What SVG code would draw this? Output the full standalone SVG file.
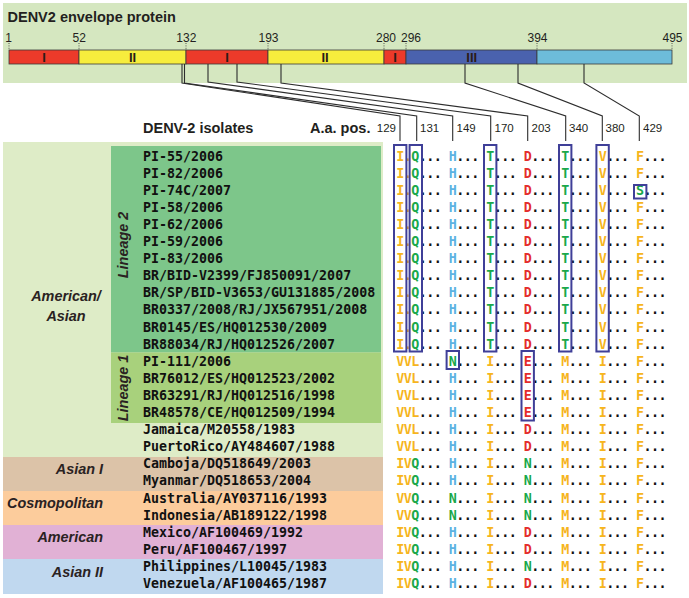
<svg xmlns="http://www.w3.org/2000/svg" width="689" height="598" viewBox="0 0 689 598">
<style>
.hd{font-family:"Liberation Sans",Arial,sans-serif;font-weight:bold;fill:#231f20}
.num{font-family:"Liberation Sans",Arial,sans-serif;font-size:12px;fill:#231f20}
.cn{font-family:"Liberation Sans",Arial,sans-serif;font-size:11.5px;fill:#231f20}
.seg{stroke:#3a3a3a;stroke-width:0.8}
.sl{font-family:"Liberation Sans",Arial,sans-serif;font-weight:bold;font-size:13px;fill:#2b1b17;text-anchor:middle}
.tick{stroke:#333;stroke-width:0.8;stroke-dasharray:1,1.4}
.con{fill:none;stroke:#2d2d2d;stroke-width:1.1}
.nm{font-family:"DejaVu Sans Mono","Liberation Mono",monospace;font-weight:bold;font-size:13.3px;fill:#111}
.al{font-family:"DejaVu Sans Mono","Liberation Mono",monospace;font-weight:bold;font-size:13.4px;letter-spacing:-0.57px;fill:#111}
.o{fill:#f6b51d}.g{fill:#1aa84b}.b{fill:#5db3e2}.r{fill:#e42c2b}
.gl{font-family:"Liberation Sans",Arial,sans-serif;font-weight:bold;font-style:italic;font-size:14.4px;fill:#2a2222}
.box{fill:none;stroke:#3f3f98;stroke-width:2}
</style>

<g id="protein-map">
<rect x="3" y="3" width="684" height="80" fill="#d5e7c0"/>
<text class="hd" x="7.5" y="21.5" font-size="14.5">DENV2 envelope protein</text>
<g id="positions">
<text class="num" x="8.7" y="41.5" text-anchor="middle">1</text>
<text class="num" x="79.3" y="41.5" text-anchor="middle">52</text>
<text class="num" x="186.3" y="41.5" text-anchor="middle">132</text>
<text class="num" x="268.5" y="41.5" text-anchor="middle">193</text>
<text class="num" x="386" y="41.5" text-anchor="middle">280</text>
<text class="num" x="411" y="41.5" text-anchor="middle">296</text>
<text class="num" x="537.5" y="41.5" text-anchor="middle">394</text>
<text class="num" x="672.5" y="41.5" text-anchor="middle">495</text>
<path class="tick" d="M9 43V49.5M79 43V49.5M186 43V49.5M268 43V49.5M384 43V49.5M406 43V49.5M537 43V49.5M672 43V49.5"/>
</g>
<g id="domains">
<rect class="seg" x="9" y="50" width="70" height="14" fill="#ec3a2a"/>
<rect class="seg" x="79" y="50" width="107" height="14" fill="#f7ed3d"/>
<rect class="seg" x="186" y="50" width="82" height="14" fill="#ec3a2a"/>
<rect class="seg" x="268" y="50" width="116" height="14" fill="#f7ed3d"/>
<rect class="seg" x="384" y="50" width="22" height="14" fill="#ec3a2a"/>
<rect class="seg" x="406" y="50" width="131" height="14" fill="#4a62ae"/>
<rect class="seg" x="537" y="50" width="135" height="14" fill="#6dbcda"/>
<text class="sl" x="44" y="61.8">I</text>
<text class="sl" x="132.5" y="61.8">II</text>
<text class="sl" x="227" y="61.8">I</text>
<text class="sl" x="325" y="61.8">II</text>
<text class="sl" x="395" y="61.8">I</text>
<text class="sl" x="471.7" y="61.8">III</text>
</g>
</g>

<g id="connectors">
<polyline class="con" points="182,64 182,83 400,116 400,141"/>
<polyline class="con" points="184.5,64 184.5,83 416.7,116 416.7,141"/>
<polyline class="con" points="208,64 208,82 452.7,116 452.7,141"/>
<polyline class="con" points="237,64 237,82 490.7,116 490.7,141"/>
<polyline class="con" points="281,64 281,83 527.7,116 527.7,141"/>
<polyline class="con" points="465,64 465,83 565.7,116 565.7,141"/>
<polyline class="con" points="518,64 518,83 602.3,116 602.3,141"/>
<polyline class="con" points="584,64 584,83 639.3,116 639.3,141"/>
</g>

<g id="headers">
<text class="hd" x="143" y="133" font-size="14.5">DENV-2 isolates</text>
<text class="hd" x="310" y="132.5" font-size="14.5">A.a. pos.</text>
<text class="cn" x="396" y="132.3" text-anchor="end">129</text>
<text class="cn" x="420" y="132.3">131</text>
<text class="cn" x="456.5" y="132.3">149</text>
<text class="cn" x="494.5" y="132.3">170</text>
<text class="cn" x="531.5" y="132.3">203</text>
<text class="cn" x="569" y="132.3">340</text>
<text class="cn" x="605.5" y="132.3">380</text>
<text class="cn" x="643" y="132.3">429</text>
</g>

<g id="group-american-asian">
<rect x="3" y="142" width="380" height="315" fill="#deecc7"/>
<text class="gl" x="66" y="301" text-anchor="middle">American/</text>
<text class="gl" x="66" y="320.5" text-anchor="middle">Asian</text>
</g>
<g id="lineage-2">
<rect x="111" y="146" width="270" height="206.5" fill="#7dc68a"/>
<text class="gl" transform="translate(128,245) rotate(-90)" text-anchor="middle">Lineage 2</text>
</g>
<g id="lineage-1">
<rect x="111" y="352.5" width="270" height="70.5" fill="#a8d17c"/>
<text class="gl" transform="translate(128,388) rotate(-90)" text-anchor="middle">Lineage 1</text>
</g>
<g id="group-asian-1">
<rect x="3" y="457" width="380" height="34" fill="#dcc3a8"/>
<text class="gl" x="103" y="474" text-anchor="end">Asian I</text>
</g>
<g id="group-cosmopolitan">
<rect x="3" y="491" width="380" height="34" fill="#fccc9c"/>
<text class="gl" x="103" y="508" text-anchor="end">Cosmopolitan</text>
</g>
<g id="group-american">
<rect x="3" y="525" width="380" height="34" fill="#e1b1d5"/>
<text class="gl" x="103" y="542" text-anchor="end">American</text>
</g>
<g id="group-asian-2">
<rect x="3" y="559" width="380" height="35" fill="#c0d8ef"/>
<text class="gl" x="103" y="576.5" text-anchor="end">Asian II</text>
</g>

<g id="isolates">
<text class="nm" x="143" y="160.5">PI-55/2006</text>
<text class="nm" x="143" y="177.6">PI-82/2006</text>
<text class="nm" x="143" y="194.7">PI-74C/2007</text>
<text class="nm" x="143" y="211.8">PI-58/2006</text>
<text class="nm" x="143" y="228.9">PI-62/2006</text>
<text class="nm" x="143" y="246">PI-59/2006</text>
<text class="nm" x="143" y="263.1">PI-83/2006</text>
<text class="nm" x="143" y="280.2">BR/BID-V2399/FJ850091/2007</text>
<text class="nm" x="143" y="297.3">BR/SP/BID-V3653/GU131885/2008</text>
<text class="nm" x="143" y="314.4">BR0337/2008/RJ/JX567951/2008</text>
<text class="nm" x="143" y="331.5">BR0145/ES/HQ012530/2009</text>
<text class="nm" x="143" y="348.6">BR88034/RJ/HQ012526/2007</text>
<text class="nm" x="143" y="365.7">PI-111/2006</text>
<text class="nm" x="143" y="382.8">BR76012/ES/HQ012523/2002</text>
<text class="nm" x="143" y="399.9">BR63291/RJ/HQ012516/1998</text>
<text class="nm" x="143" y="417">BR48578/CE/HQ012509/1994</text>
<text class="nm" x="143" y="434.1">Jamaica/M20558/1983</text>
<text class="nm" x="143" y="451.2">PuertoRico/AY484607/1988</text>
<text class="nm" x="143" y="468.3">Camboja/DQ518649/2003</text>
<text class="nm" x="143" y="485.4">Myanmar/DQ518653/2004</text>
<text class="nm" x="143" y="502.5">Australia/AY037116/1993</text>
<text class="nm" x="143" y="519.6">Indonesia/AB189122/1998</text>
<text class="nm" x="143" y="536.7">Mexico/AF100469/1992</text>
<text class="nm" x="143" y="553.8">Peru/AF100467/1997</text>
<text class="nm" x="143" y="570.9">Philippines/L10045/1983</text>
<text class="nm" x="143" y="588">Venezuela/AF100465/1987</text>
</g>

<g id="alignment">
<text class="al" x="396.3" y="160.5"><tspan class="o">I.</tspan><tspan class="g">Q</tspan>... <tspan class="b">H</tspan>... <tspan class="g">T</tspan>... <tspan class="r">D</tspan>... <tspan class="g">T</tspan>... <tspan class="o">V</tspan>... <tspan class="o">F</tspan>...</text>
<text class="al" x="396.3" y="177.6"><tspan class="o">I.</tspan><tspan class="g">Q</tspan>... <tspan class="b">H</tspan>... <tspan class="g">T</tspan>... <tspan class="r">D</tspan>... <tspan class="g">T</tspan>... <tspan class="o">V</tspan>... <tspan class="o">F</tspan>...</text>
<text class="al" x="396.3" y="194.7"><tspan class="o">I.</tspan><tspan class="g">Q</tspan>... <tspan class="b">H</tspan>... <tspan class="g">T</tspan>... <tspan class="r">D</tspan>... <tspan class="g">T</tspan>... <tspan class="o">V</tspan>... <tspan class="g">S</tspan>...</text>
<text class="al" x="396.3" y="211.8"><tspan class="o">I.</tspan><tspan class="g">Q</tspan>... <tspan class="b">H</tspan>... <tspan class="g">T</tspan>... <tspan class="r">D</tspan>... <tspan class="g">T</tspan>... <tspan class="o">V</tspan>... <tspan class="o">F</tspan>...</text>
<text class="al" x="396.3" y="228.9"><tspan class="o">I.</tspan><tspan class="g">Q</tspan>... <tspan class="b">H</tspan>... <tspan class="g">T</tspan>... <tspan class="r">D</tspan>... <tspan class="g">T</tspan>... <tspan class="o">V</tspan>... <tspan class="o">F</tspan>...</text>
<text class="al" x="396.3" y="246"><tspan class="o">I.</tspan><tspan class="g">Q</tspan>... <tspan class="b">H</tspan>... <tspan class="g">T</tspan>... <tspan class="r">D</tspan>... <tspan class="g">T</tspan>... <tspan class="o">V</tspan>... <tspan class="o">F</tspan>...</text>
<text class="al" x="396.3" y="263.1"><tspan class="o">I.</tspan><tspan class="g">Q</tspan>... <tspan class="b">H</tspan>... <tspan class="g">T</tspan>... <tspan class="r">D</tspan>... <tspan class="g">T</tspan>... <tspan class="o">V</tspan>... <tspan class="o">F</tspan>...</text>
<text class="al" x="396.3" y="280.2"><tspan class="o">I.</tspan><tspan class="g">Q</tspan>... <tspan class="b">H</tspan>... <tspan class="g">T</tspan>... <tspan class="r">D</tspan>... <tspan class="g">T</tspan>... <tspan class="o">V</tspan>... <tspan class="o">F</tspan>...</text>
<text class="al" x="396.3" y="297.3"><tspan class="o">I.</tspan><tspan class="g">Q</tspan>... <tspan class="b">H</tspan>... <tspan class="g">T</tspan>... <tspan class="r">D</tspan>... <tspan class="g">T</tspan>... <tspan class="o">V</tspan>... <tspan class="o">F</tspan>...</text>
<text class="al" x="396.3" y="314.4"><tspan class="o">I.</tspan><tspan class="g">Q</tspan>... <tspan class="b">H</tspan>... <tspan class="g">T</tspan>... <tspan class="r">D</tspan>... <tspan class="g">T</tspan>... <tspan class="o">V</tspan>... <tspan class="o">F</tspan>...</text>
<text class="al" x="396.3" y="331.5"><tspan class="o">I.</tspan><tspan class="g">Q</tspan>... <tspan class="b">H</tspan>... <tspan class="g">T</tspan>... <tspan class="r">D</tspan>... <tspan class="g">T</tspan>... <tspan class="o">V</tspan>... <tspan class="o">F</tspan>...</text>
<text class="al" x="396.3" y="348.6"><tspan class="o">I.</tspan><tspan class="g">Q</tspan>... <tspan class="b">H</tspan>... <tspan class="g">T</tspan>... <tspan class="r">D</tspan>... <tspan class="g">T</tspan>... <tspan class="o">V</tspan>... <tspan class="o">F</tspan>...</text>
<text class="al" x="396.3" y="365.7"><tspan class="o">VVL</tspan>... <tspan class="g">N</tspan>... <tspan class="o">I</tspan>... <tspan class="r">E</tspan>... <tspan class="o">M</tspan>... <tspan class="o">I</tspan>... <tspan class="o">F</tspan>...</text>
<text class="al" x="396.3" y="382.8"><tspan class="o">VVL</tspan>... <tspan class="b">H</tspan>... <tspan class="o">I</tspan>... <tspan class="r">E</tspan>... <tspan class="o">M</tspan>... <tspan class="o">I</tspan>... <tspan class="o">F</tspan>...</text>
<text class="al" x="396.3" y="399.9"><tspan class="o">VVL</tspan>... <tspan class="b">H</tspan>... <tspan class="o">I</tspan>... <tspan class="r">E</tspan>... <tspan class="o">M</tspan>... <tspan class="o">I</tspan>... <tspan class="o">F</tspan>...</text>
<text class="al" x="396.3" y="417"><tspan class="o">VVL</tspan>... <tspan class="b">H</tspan>... <tspan class="o">I</tspan>... <tspan class="r">E</tspan>... <tspan class="o">M</tspan>... <tspan class="o">I</tspan>... <tspan class="o">F</tspan>...</text>
<text class="al" x="396.3" y="434.1"><tspan class="o">VVL</tspan>... <tspan class="b">H</tspan>... <tspan class="o">I</tspan>... <tspan class="r">D</tspan>... <tspan class="o">M</tspan>... <tspan class="o">I</tspan>... <tspan class="o">F</tspan>...</text>
<text class="al" x="396.3" y="451.2"><tspan class="o">VVL</tspan>... <tspan class="b">H</tspan>... <tspan class="o">I</tspan>... <tspan class="r">D</tspan>... <tspan class="o">M</tspan>... <tspan class="o">I</tspan>... <tspan class="o">F</tspan>...</text>
<text class="al" x="396.3" y="468.3"><tspan class="o">IV</tspan><tspan class="g">Q</tspan>... <tspan class="b">H</tspan>... <tspan class="o">I</tspan>... <tspan class="g">N</tspan>... <tspan class="o">M</tspan>... <tspan class="o">I</tspan>... <tspan class="o">F</tspan>...</text>
<text class="al" x="396.3" y="485.4"><tspan class="o">IV</tspan><tspan class="g">Q</tspan>... <tspan class="b">H</tspan>... <tspan class="o">I</tspan>... <tspan class="g">N</tspan>... <tspan class="o">M</tspan>... <tspan class="o">I</tspan>... <tspan class="o">F</tspan>...</text>
<text class="al" x="396.3" y="502.5"><tspan class="o">VV</tspan><tspan class="g">Q</tspan>... <tspan class="g">N</tspan>... <tspan class="o">I</tspan>... <tspan class="g">N</tspan>... <tspan class="o">M</tspan>... <tspan class="o">I</tspan>... <tspan class="o">F</tspan>...</text>
<text class="al" x="396.3" y="519.6"><tspan class="o">VV</tspan><tspan class="g">Q</tspan>... <tspan class="g">N</tspan>... <tspan class="o">I</tspan>... <tspan class="g">N</tspan>... <tspan class="o">M</tspan>... <tspan class="o">I</tspan>... <tspan class="o">F</tspan>...</text>
<text class="al" x="396.3" y="536.7"><tspan class="o">IV</tspan><tspan class="g">Q</tspan>... <tspan class="b">H</tspan>... <tspan class="o">I</tspan>... <tspan class="r">D</tspan>... <tspan class="o">M</tspan>... <tspan class="o">I</tspan>... <tspan class="o">F</tspan>...</text>
<text class="al" x="396.3" y="553.8"><tspan class="o">IV</tspan><tspan class="g">Q</tspan>... <tspan class="b">H</tspan>... <tspan class="o">I</tspan>... <tspan class="r">D</tspan>... <tspan class="o">M</tspan>... <tspan class="o">I</tspan>... <tspan class="o">F</tspan>...</text>
<text class="al" x="396.3" y="570.9"><tspan class="o">IV</tspan><tspan class="g">Q</tspan>... <tspan class="b">H</tspan>... <tspan class="o">I</tspan>... <tspan class="g">N</tspan>... <tspan class="o">M</tspan>... <tspan class="o">I</tspan>... <tspan class="o">F</tspan>...</text>
<text class="al" x="396.3" y="588"><tspan class="o">IV</tspan><tspan class="g">Q</tspan>... <tspan class="b">H</tspan>... <tspan class="o">I</tspan>... <tspan class="r">D</tspan>... <tspan class="o">M</tspan>... <tspan class="o">I</tspan>... <tspan class="o">F</tspan>...</text>
</g>

<g id="highlight-boxes">
<rect class="box" x="394" y="145" width="12.4" height="206.5"/>
<rect class="box" x="409.6" y="145" width="12.4" height="206.5"/>
<rect class="box" x="484" y="145" width="12.4" height="206.5"/>
<rect class="box" x="559" y="145" width="12.4" height="206.5"/>
<rect class="box" x="596.4" y="145" width="12.4" height="206.5"/>
<rect class="box" x="634" y="185" width="12.4" height="13.5"/>
<rect class="box" x="446.6" y="351" width="12.4" height="18"/>
<rect class="box" x="521.5" y="351" width="12.4" height="69.5"/>
</g>
</svg>
